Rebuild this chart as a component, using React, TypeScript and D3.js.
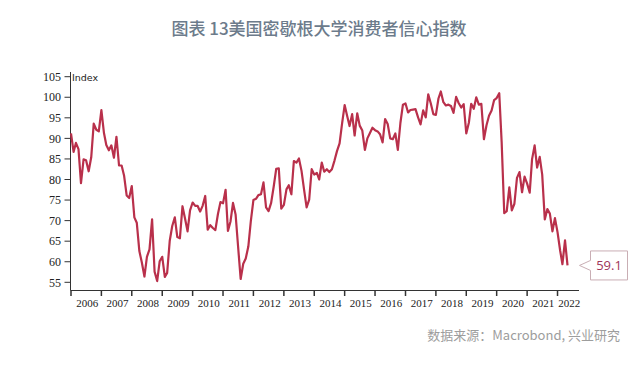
import React, { useEffect, useRef } from 'react';
import * as d3 from 'd3';

// University of Michigan consumer sentiment, monthly, Jan 2006 - May 2022
const startYear = 2006;
const sentiment = [
  91.2, 86.7, 88.9, 87.4, 79.1, 84.9, 84.7, 82.0, 85.4, 93.6, 92.1, 91.7, // 2006
  96.9, 91.3, 88.4, 87.1, 88.3, 85.3, 90.4, 83.4, 83.4, 80.9, 76.1, 75.5, // 2007
  78.4, 70.8, 69.5, 62.6, 59.8, 56.4, 61.2, 63.0, 70.3, 57.6, 55.3, 60.1, // 2008
  61.2, 56.3, 57.3, 65.1, 68.7, 70.8, 66.0, 65.7, 73.5, 70.6, 67.4, 72.5, // 2009
  74.4, 73.6, 73.6, 72.2, 73.6, 76.0, 67.8, 68.9, 68.2, 67.7, 71.6, 74.5, // 2010
  74.2, 77.5, 67.5, 69.8, 74.3, 71.5, 63.7, 55.8, 59.5, 60.8, 63.7, 69.9, // 2011
  75.0, 75.3, 76.2, 76.4, 79.3, 73.2, 72.3, 74.3, 78.3, 82.6, 82.7, 72.9, // 2012
  73.8, 77.6, 78.6, 76.4, 84.5, 84.1, 85.1, 82.1, 77.5, 73.2, 75.1, 82.5, // 2013
  81.2, 81.6, 80.0, 84.1, 81.9, 82.5, 81.8, 82.5, 84.6, 86.9, 88.8, 93.6, // 2014
  98.1, 95.4, 93.0, 95.9, 90.7, 96.1, 93.1, 91.9, 87.2, 90.0, 91.3, 92.6, // 2015
  92.0, 91.7, 91.0, 89.0, 94.7, 93.5, 90.0, 89.8, 91.2, 87.2, 93.8, 98.2, // 2016
  98.5, 96.3, 96.9, 97.0, 97.1, 95.1, 93.4, 96.8, 95.1, 100.7, 98.5, 95.9, // 2017
  95.7, 99.7, 101.4, 98.8, 98.0, 98.2, 97.9, 96.2, 100.1, 98.6, 97.5, 98.3, // 2018
  91.2, 93.8, 98.4, 97.2, 100.0, 98.2, 98.4, 89.8, 93.2, 95.5, 96.8, 99.3, // 2019
  99.8, 101.0, 89.1, 71.8, 72.3, 78.1, 72.5, 74.1, 80.4, 81.8, 76.9, 80.7, // 2020
  79.0, 76.8, 84.9, 88.3, 82.9, 85.5, 81.2, 70.3, 72.8, 71.7, 67.4, 70.6, // 2021
  67.2, 62.8, 59.4, 65.2, 59.1, // 2022
];
const yearLabels = ['2006', '2007', '2008', '2009', '2010', '2011', '2012', '2013', '2014',
  '2015', '2016', '2017', '2018', '2019', '2020', '2021', '2022'];
const yTicks = [55, 60, 65, 70, 75, 80, 85, 90, 95, 100, 105];

const title = '图表 13美国密歇根大学消费者信心指数';
const source = '数据来源：Macrobond, 兴业研究';

const lineColor = '#b9304b';
const axisColor = '#333';

const App = () => {
  const ref = useRef(null);

  useEffect(() => {
    const svg = d3.select(ref.current);
    svg.selectAll('*').remove();

    const data = sentiment.map((v, i) => ({
      date: new Date(startYear + Math.floor(i / 12), i % 12, 1),
      value: v,
    }));

    const axisEnd = new Date(2022, 8, 16);
    const x = d3.scaleTime()
      .domain([new Date(startYear, 0, 1), axisEnd])
      .range([71, 579]);
    const y = d3.scaleLinear().domain([55, 105]).range([282.3, 76.7]);
    const axisY = 290;

    // title
    svg.append('text')
      .attr('x', 319).attr('y', 35)
      .attr('text-anchor', 'middle')
      .style('font-family', '"Noto Sans CJK SC", "Noto Sans", sans-serif')
      .style('font-size', '17px')
      .style('font-weight', 500)
      .style('fill', '#6c7b8b')
      .text(title);

    // y axis
    svg.append('line')
      .attr('x1', 70.5).attr('x2', 70.5)
      .attr('y1', 72).attr('y2', axisY)
      .attr('stroke', axisColor);
    const yt = svg.append('g');
    yTicks.forEach(t => {
      yt.append('line')
        .attr('x1', 64.5).attr('x2', 70.5)
        .attr('y1', y(t)).attr('y2', y(t))
        .attr('stroke', axisColor);
      yt.append('text')
        .attr('x', 61).attr('y', y(t))
        .attr('dy', '0.35em')
        .attr('text-anchor', 'end')
        .style('font-family', '"Liberation Serif", serif')
        .style('font-size', '12px')
        .style('fill', '#222')
        .text(t);
    });
    svg.append('text')
      .attr('x', 72).attr('y', 81)
      .style('font-family', '"DejaVu Sans", sans-serif')
      .style('font-size', '9.5px')
      .style('fill', '#222')
      .text('Index');

    // x axis
    svg.append('line')
      .attr('x1', 70.5).attr('x2', 579)
      .attr('y1', axisY + 0.5).attr('y2', axisY + 0.5)
      .attr('stroke', axisColor);
    const xt = svg.append('g');
    yearLabels.forEach((lab, i) => {
      const x0 = x(new Date(startYear + i, 0, 1));
      const x1 = Math.min(x(new Date(startYear + i + 1, 0, 1)), x(axisEnd));
      xt.append('line')
        .attr('x1', x0).attr('x2', x0)
        .attr('y1', axisY).attr('y2', axisY + 6)
        .attr('stroke', axisColor)
        .attr('stroke-width', 1.5);
      xt.append('text')
        .attr('x', (x0 + x1) / 2 + 1).attr('y', 307)
        .attr('text-anchor', 'middle')
        .style('font-family', '"Liberation Serif", serif')
        .style('font-size', '11px')
        .style('fill', '#222')
        .text(lab);
    });

    // series
    const line = d3.line()
      .x(d => x(d.date))
      .y(d => y(d.value));
    svg.append('path')
      .datum(data)
      .attr('d', line)
      .attr('fill', 'none')
      .attr('stroke', lineColor)
      .attr('stroke-width', 2.2)
      .attr('stroke-linejoin', 'round');

    // last value callout
    const last = data[data.length - 1];
    const tipX = x(last.date) + 12;
    const tipY = y(last.value);
    const bx = tipX + 11, bw = 37, bh = 29;
    svg.append('path')
      .attr('d', `M${tipX},${tipY} L${bx},${tipY - 5} L${bx},${tipY - bh / 2} L${bx + bw},${tipY - bh / 2} L${bx + bw},${tipY + bh / 2} L${bx},${tipY + bh / 2} L${bx},${tipY + 5} Z`)
      .attr('fill', '#fff')
      .attr('stroke', '#c9aeb4')
      .attr('stroke-width', 1);
    svg.append('text')
      .attr('x', bx + bw / 2).attr('y', tipY)
      .attr('dy', '0.36em')
      .attr('text-anchor', 'middle')
      .style('font-family', '"Open Sans", "Noto Sans", sans-serif')
      .style('font-size', '13px')
      .style('fill', '#a0345a')
      .text(last.value.toFixed(1));

    // source
    svg.append('text')
      .attr('x', 620).attr('y', 340)
      .attr('text-anchor', 'end')
      .style('font-family', '"Noto Sans CJK SC", "Noto Sans", sans-serif')
      .style('font-size', '13px')
      .style('fill', '#9d9d9d')
      .text(source);
  }, []);

  return (
    <svg
      ref={ref}
      width={640}
      height={373}
      style={{ position: 'absolute', left: 0, top: 0, background: '#fff' }}
    />
  );
};

export default App;
